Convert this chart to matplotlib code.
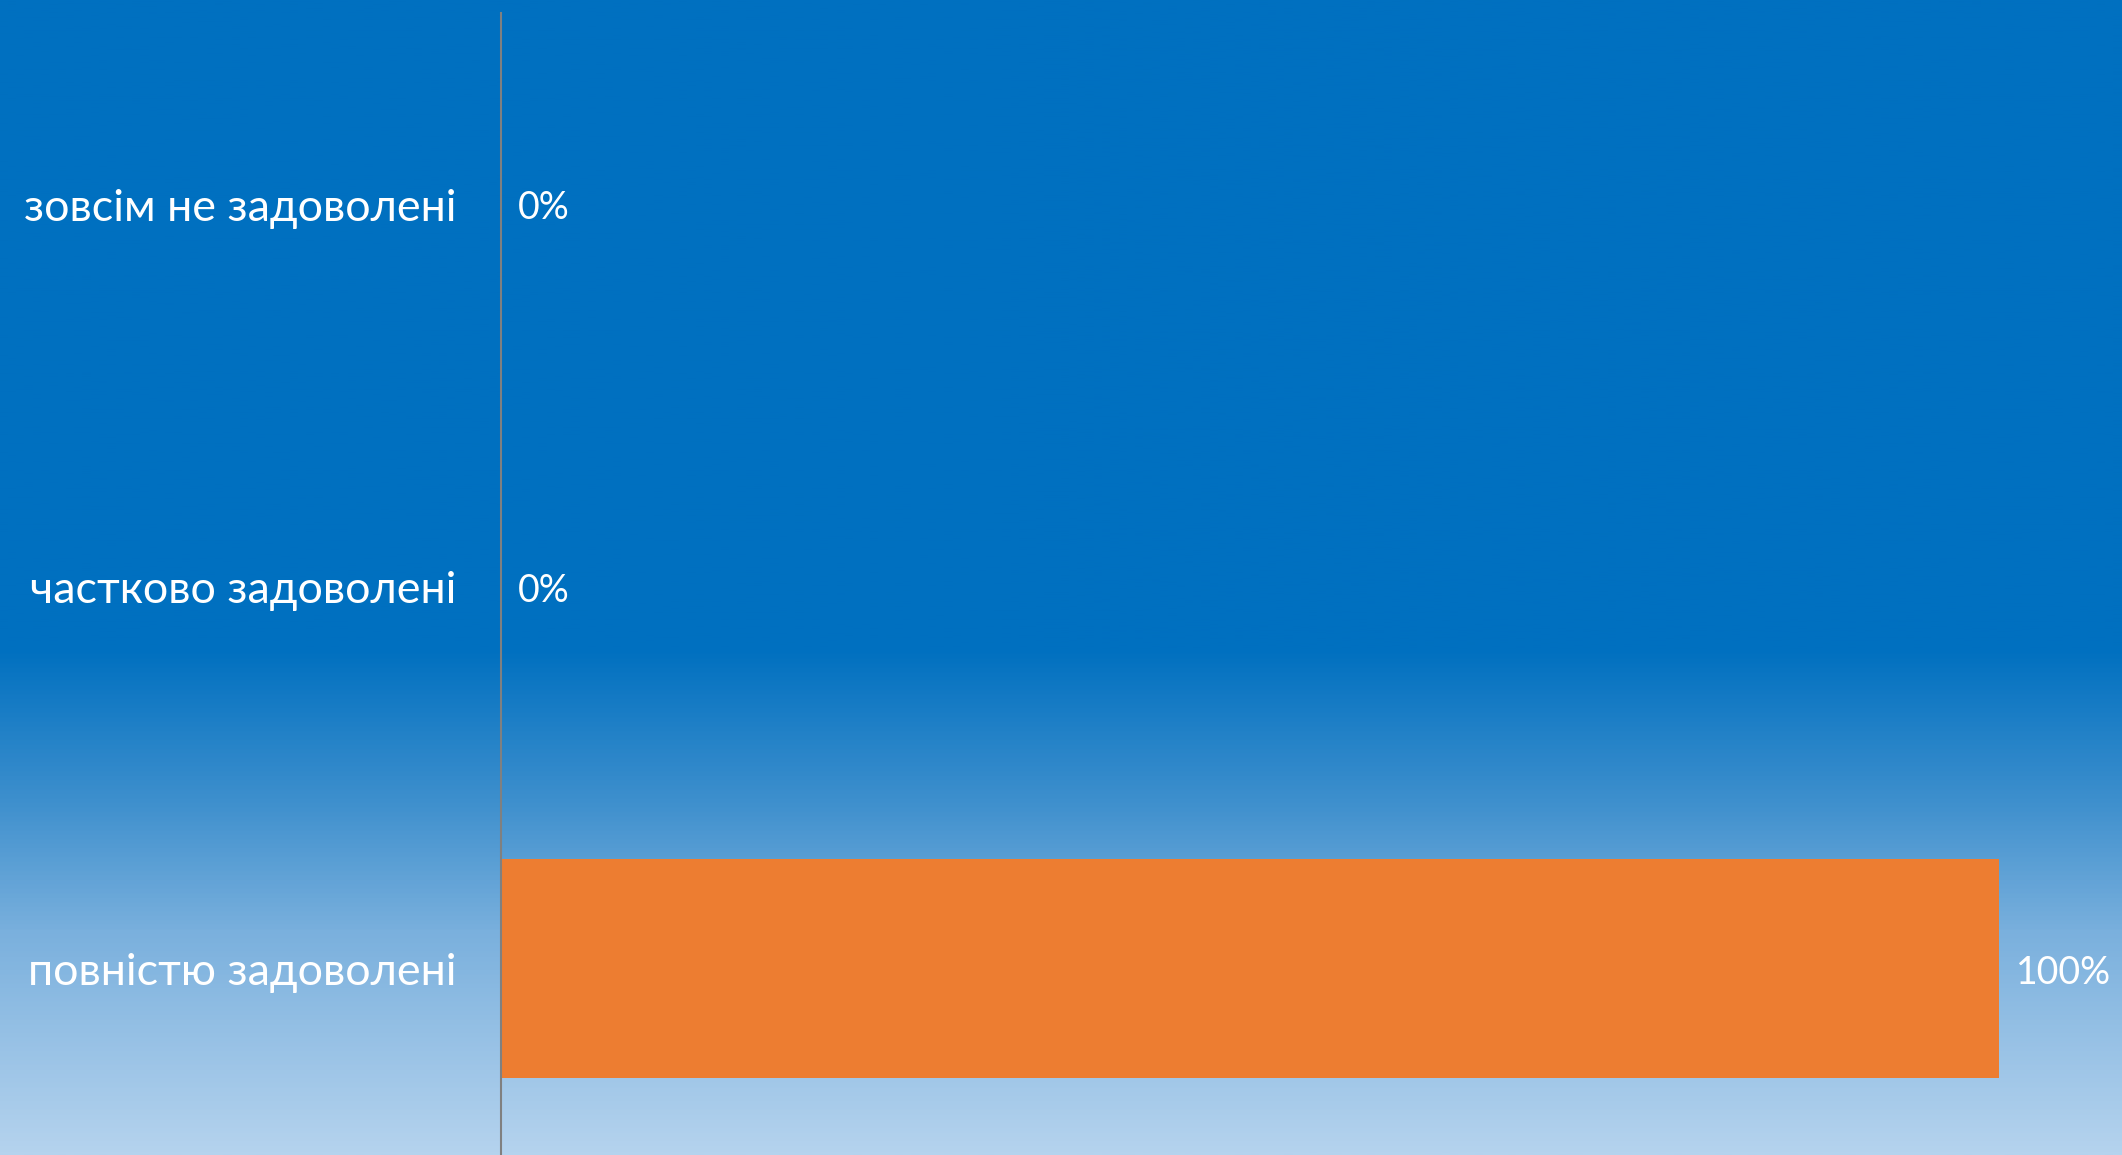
import numpy as np
import matplotlib
matplotlib.use("Agg")
import matplotlib.pyplot as plt
from matplotlib.colors import LinearSegmentedColormap

categories = ["зовсім не задоволені", "частково задоволені", "повністю задоволені"]
values = [0, 0, 100]
value_labels = ["0%", "0%", "100%"]

plt.rcParams['font.family'] = ['Lato', 'Noto Sans', 'DejaVu Sans']

W, H = 2122, 1155
fig = plt.figure(figsize=(W / 100, H / 100), dpi=100)

# background gradient (solid blue on top, fading to light blue at bottom)
bg = fig.add_axes([0, 0, 1, 1], zorder=0)
stops = [(0.0, "#0070C0"), (650 / H, "#0070C0"), (800 / H, "#3D8FCD"),
         (933 / H, "#7AB0DD"), (1.0, "#B5D3EE")]
cmap = LinearSegmentedColormap.from_list("bg", stops)
grad = np.linspace(0, 1, 512).reshape(-1, 1)
bg.imshow(grad, cmap=cmap, aspect="auto", extent=[0, 1, 1, 0])
bg.set_axis_off()

ax = fig.add_axes([501 / W, -5 / H, (1999 - 501) / W, (1155 - 13 + 5) / H], zorder=1)
ax.patch.set_alpha(0)
y = np.arange(len(categories))
ax.barh(y, values, height=0.573, color="#ED7D31")
ax.set_xlim(0, 100)
ax.set_ylim(len(categories) - 0.5, -0.5)
ax.set_yticks(y, categories, fontsize=32.3, color="white")
ax.tick_params(axis="y", length=0, pad=32)
ax.set_xticks([])
for s in ["top", "right", "bottom"]:
    ax.spines[s].set_visible(False)
ax.spines["left"].set_color("#808080")
ax.spines["left"].set_linewidth(1.5)

for yi, v, lab in zip(y, values, value_labels):
    ax.annotate(lab, (v, yi), xytext=(12, -3), textcoords="offset points",
                ha="left", va="center", fontsize=27, color="white")

fig.savefig("out.png", dpi=100)
